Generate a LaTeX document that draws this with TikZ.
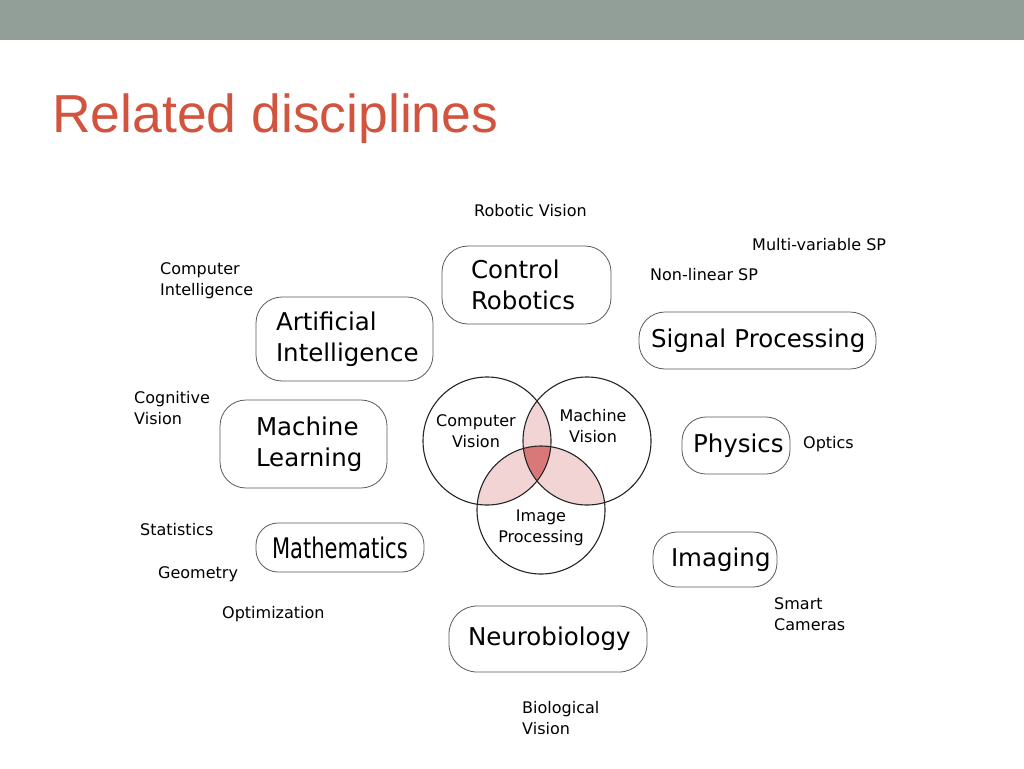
\documentclass[tikz,border=0pt]{standalone}
\usepackage{fontspec}
\setmainfont{DejaVu Sans}
\newfontfamily\titlefont{Liberation Sans}
\usetikzlibrary{positioning}
\definecolor{barcol}{RGB}{146,158,152}
\definecolor{titlecol}{RGB}{210,84,62}
\definecolor{lightpink}{RGB}{242,212,212}
\definecolor{darkpink}{RGB}{216,120,120}
\definecolor{blobline}{RGB}{90,90,90}
\tikzset{
  blob/.style={draw=blobline, line width=0.8pt, rounded corners=26pt, inner ysep=0pt, align=left,
    font=\fontsize{24.5}{31}\selectfont},
  lbl/.style={anchor=west, inner sep=0pt, align=left, font=\fontsize{16}{21}\selectfont},
  ctext/.style={inner sep=0pt, align=center, font=\fontsize{16}{21}\selectfont},
  venn/.style={circle, draw=black!85, line width=1.1pt, minimum size=128pt, inner sep=0pt},
}
\begin{document}
\begin{tikzpicture}[x=1pt,y=-1pt]
\useasboundingbox (0,0) rectangle (1024,768);
\fill[white] (0,0) rectangle (1024,768);
\fill[barcol] (0,0) rectangle (1024,40);
\node[anchor=base west, inner sep=0pt, text=titlecol, font=\titlefont\fontsize{53.5}{60}\selectfont] (title) at (52,132) {Related disciplines};

% Venn diagram
\coordinate (cA) at (487,441);
\coordinate (cB) at (587,441);
\coordinate (cC) at (541,510);
\begin{scope}
  \clip (cA) circle (64);
  \fill[lightpink] (cB) circle (64);
  \fill[lightpink] (cC) circle (64);
\end{scope}
\begin{scope}
  \clip (cB) circle (64);
  \fill[lightpink] (cC) circle (64);
\end{scope}
\begin{scope}
  \clip (cA) circle (64);
  \clip (cB) circle (64);
  \fill[darkpink] (cC) circle (64);
\end{scope}
\node[venn] (cv) at (cA) {};
\node[venn] (mv) at (cB) {};
\node[venn] (ip) at (cC) {};
\node[ctext] (cvt) at (476,431) {Computer\\Vision};
\node[ctext] (mvt) at (593,426) {Machine\\Vision};
\node[ctext] (ipt) at (541,528) {Image\\Processing};

% Blobs
\node[blob, inner xsep=29pt, text width=111pt, minimum height=78pt] (cr) at (526.5,285) {\mbox{Control}\\\mbox{Robotics}};
\node[blob, inner xsep=20pt, text width=137pt, minimum height=84pt] (ai) at (344.5,339) {\mbox{Artificial}\\\mbox{Intelligence}};
\node[blob, inner xsep=36pt, text width=95pt, minimum height=88pt] (ml) at (303.5,444) {\mbox{Machine}\\\mbox{Learning}};
\node[blob, inner xsep=16pt, text width=136pt, minimum height=49pt, rounded corners=22pt] (ma) at (340,547.5) {\scalebox{0.78}[1.05]{\fontsize{27}{31}\selectfont Mathematics}};
\node[blob, inner xsep=12pt, text width=213pt, minimum height=57pt, rounded corners=26pt] (sp) at (757.5,340.5) {\mbox{Signal Processing}};
\node[blob, inner xsep=11pt, text width=86pt, minimum height=57pt, rounded corners=24pt] (ph) at (736,445.5) {\mbox{Physics}};
\node[blob, inner xsep=18pt, text width=88pt, minimum height=55pt, rounded corners=24pt] (im) at (715,559.5) {\mbox{Imaging}};
\node[blob, inner xsep=19pt, text width=160pt, minimum height=66pt, rounded corners=28pt] (nb) at (548,639) {\mbox{Neurobiology}};

% Labels
\node[lbl] (rv) at (474,211) {Robotic Vision};
\node[lbl] (mvsp) at (752,245) {Multi-variable SP};
\node[lbl] (nlsp) at (650,275) {Non-linear SP};
\node[lbl] (ci) at (160,280.5) {Computer\\Intelligence};
\node[lbl] (cog) at (134,408.5) {Cognitive\\Vision};
\node[lbl] (st) at (140,530) {Statistics};
\node[lbl] (ge) at (158,574) {Geometry};
\node[lbl] (op) at (222,614) {Optimization};
\node[lbl] (opt) at (803,444) {Optics};
\node[lbl] (sc) at (774,614.5) {Smart\\Cameras};
\begin{scope}
  \clip (0,0) rectangle (1024,733);
  \node[lbl] (bv) at (522,718.5) {Biological\\Vision};
\end{scope}
\end{tikzpicture}
\end{document}
